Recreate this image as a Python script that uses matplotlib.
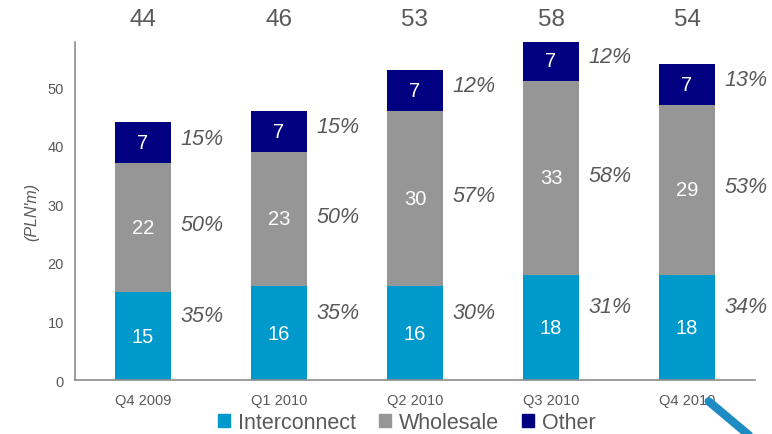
import numpy as np
import matplotlib
matplotlib.use('Agg')
import matplotlib.pyplot as plt
from matplotlib.patches import Patch
from matplotlib.lines import Line2D

plt.rcParams['font.family'] = ['Liberation Sans', 'DejaVu Sans']

quarters = ['Q4 2009', 'Q1 2010', 'Q2 2010', 'Q3 2010', 'Q4 2010']
interconnect = [15, 16, 16, 18, 18]
wholesale = [22, 23, 30, 33, 29]
other = [7, 7, 7, 7, 7]
totals = [44, 46, 53, 58, 54]
pct_interconnect = ['35%', '35%', '30%', '31%', '34%']
pct_wholesale = ['50%', '50%', '57%', '58%', '53%']
pct_other = ['15%', '15%', '12%', '12%', '13%']

c_inter = '#0099cc'
c_whole = '#969696'
c_other = '#000080'
grey_txt = '#595959'

fig = plt.figure(figsize=(7.72, 4.35), dpi=100)
ax = fig.add_axes([0.097, 0.124, 0.881, 0.777])

x = np.arange(len(quarters))
w = 0.41
inter = np.array(interconnect)
whole = np.array(wholesale)
oth = np.array(other)
ax.bar(x, inter, w, color=c_inter)
ax.bar(x, whole, w, bottom=inter, color=c_whole)
ax.bar(x, oth, w, bottom=inter + whole, color=c_other)

# numbers inside the segments, shares to the right
for i in range(len(x)):
    ax.text(x[i], inter[i] / 2, str(inter[i]), color='white', fontsize=14.5,
            ha='center', va='center')
    ax.text(x[i], inter[i] + whole[i] / 2, str(whole[i]), color='white', fontsize=14.5,
            ha='center', va='center')
    ax.text(x[i], inter[i] + whole[i] + oth[i] / 2, str(oth[i]), color='white',
            fontsize=14.5, ha='center', va='center')
    xr = x[i] + w / 2 + 0.07
    ax.text(xr, inter[i] / 2 + 3.5, pct_interconnect[i], color=grey_txt, fontsize=15.5,
            style='italic', ha='left', va='center')
    ax.text(xr, inter[i] + whole[i] / 2 + 0.5, pct_wholesale[i], color=grey_txt,
            fontsize=15.5, style='italic', ha='left', va='center')
    ax.text(xr, inter[i] + whole[i] + oth[i] / 2 + 0.8, pct_other[i], color=grey_txt,
            fontsize=15.5, style='italic', ha='left', va='center')
    ax.text(x[i], 1.035, str(totals[i]), transform=ax.get_xaxis_transform(),
            color=grey_txt, fontsize=17.5, ha='center', va='bottom')

ax.set_xlim(-0.5, 4.5)
ax.set_ylim(0, 57.7)
ax.set_yticks([0, 10, 20, 30, 40, 50])
ax.set_xticks(x)
ax.set_xticklabels(quarters)
ax.tick_params(length=0, labelsize=10.5, colors=grey_txt, pad=9)
ax.tick_params(axis='y', pad=8)
for s in ['top', 'right']:
    ax.spines[s].set_visible(False)
for s in ['left', 'bottom']:
    ax.spines[s].set_color('#8c8c8c')
    ax.spines[s].set_linewidth(1.2)
ax.set_ylabel("(PLN'm)", style='italic', fontsize=11.5, color=grey_txt, labelpad=6)

handles = [Patch(color=c_inter), Patch(color=c_whole), Patch(color=c_other)]
fig.legend(handles, ['Interconnect', 'Wholesale', 'Other'], loc='center',
           bbox_to_anchor=(0.527, 0.027), ncol=3, frameon=False, fontsize=15.5,
           handlelength=0.56, handleheight=0.56, handletextpad=0.37, columnspacing=1.05,
           labelcolor=grey_txt)

# pen tip in the corner
fig.add_artist(Line2D([0.918, 0.975], [0.075, -0.01], transform=fig.transFigure,
                      color='#1e8bc3', lw=6, solid_capstyle='round'))

fig.savefig('out.png', dpi=100)
